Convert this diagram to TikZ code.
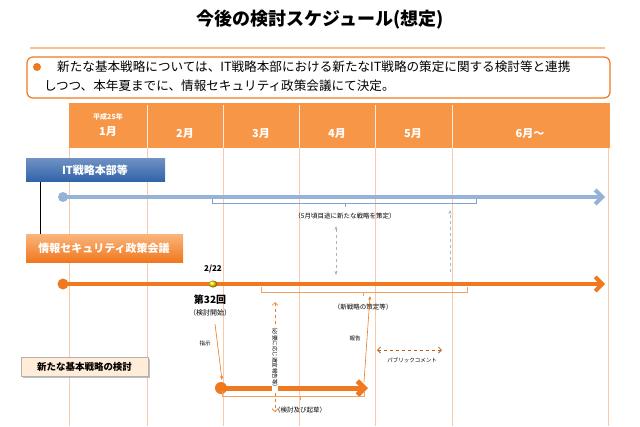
\documentclass[tikz,border=0pt]{standalone}
\usepackage{fontspec}
\setmainfont{Noto Sans CJK JP}
\usetikzlibrary{arrows.meta,shadows}
\definecolor{org}{RGB}{240,120,30}
\definecolor{lorg}{RGB}{247,150,70}
\definecolor{vln}{RGB}{250,200,170}
\definecolor{blu}{RGB}{149,179,215}
\definecolor{dblu}{RGB}{50,100,170}
\tikzset{
 mon/.style={text=white,font=\bfseries\fontsize{11}{12}\selectfont},
 small/.style={font=\fontsize{6.5}{7}\selectfont},
 brk/.style={draw=#1,line width=0.6pt},
 lab/.style={draw=none,font=\bfseries\fontsize{11}{12}\selectfont,inner sep=0pt},
}
\begin{document}
\begin{tikzpicture}[x=1pt,y=-1pt]
\useasboundingbox (0,0) rectangle (640,426);
% title
\node[font=\bfseries\fontsize{18}{19}\selectfont] (title) at (320,20) {今後の検討スケジュール(想定)};
\draw[lorg!60,line width=1.5pt] (30,48) -- (605,48);
\draw[org,line width=1.2pt,rounded corners=6pt] (27,57) rectangle (610,98);
\fill[org] (37,67) circle (4);
\node[anchor=west,font=\fontsize{12.6}{13}\selectfont,inner sep=0] (l1) at (57,67) {新たな基本戦略については、IT戦略本部における新たなIT戦略の策定に関する検討等と連携};
\node[anchor=west,font=\fontsize{12.6}{13}\selectfont,inner sep=0] (l2) at (44,86) {しつつ、本年夏までに、情報セキュリティ政策会議にて決定。};
% header
\fill[lorg] (69,103) rectangle (610,148);
\foreach \x in {69,147,223,299,375,452,608} \draw[vln,line width=0.8pt] (\x,148) -- (\x,426);
\foreach \x in {147,223,299,375,452} \draw[white!80!lorg,line width=0.8pt] (\x,105) -- (\x,148);
\node[text=white,font=\bfseries\fontsize{7}{8}\selectfont] (yr) at (108,117) {平成25年};
\node[mon] (m1) at (108,132) {1月};
\node[mon] (m2) at (185,134) {2月};
\node[mon] (m3) at (261,134) {3月};
\node[mon] (m4) at (337,134) {4月};
\node[mon] (m5) at (413,134) {5月};
\node[mon] (m6) at (530,134) {6月～};
% IT box
\draw[black,line width=0.8pt] (40,181) -- (40,236);
\shade[top color=dblu!70!white,bottom color=dblu] (26,158) rectangle (165,181);
\node[text=white,lab] (it) at (95,170) {IT戦略本部等};
\draw[blu,line width=4pt,-{Straight Barb[length=7pt,width=14pt]}] (63,197) -- (605,197);
\fill[blu] (63,197) circle (5);
\draw[brk=dblu!60] (212,199) -- (212,203) -- (476,203) -- (476,199);
\draw[brk=dblu!60] (345,203) -- (345,207);
\node[small] (it5) at (345,216) {（5月頃目途に新たな戦略を策定）};
% gray dashed
\draw[gray!60,dashed,{Stealth[length=4pt]}-{Stealth[length=4pt]}] (336,226) -- (336,275);
\draw[gray!60,dashed,-{Stealth[length=4pt]}] (450,272) -- (450,210);
% council
\shade[top color=lorg!70,bottom color=org] (26,234) rectangle (183,262);
\node[text=white,lab] (isc) at (104,248) {情報セキュリティ政策会議};
\draw[org,line width=4pt,-{Straight Barb[length=7pt,width=14pt]}] (63,284) -- (605,284);
\fill[org] (63,284) circle (5.5);
\draw[brk=org!70] (261,287) -- (261,292) -- (467,292) -- (467,287);
\draw[brk=org!70] (363,292) -- (363,296);
\node[small] (ns) at (363,307) {（新戦略の策定等）};
\shade[ball color=yellow!70!orange] (213,284) ellipse (4.5 and 3.5);
\node[font=\bfseries\fontsize{8}{9}\selectfont] (d) at (213,269) {2/22};
\node[font=\bfseries\fontsize{10}{11}\selectfont] (n32) at (210,300) {第32回};
\node[font=\fontsize{7}{8}\selectfont] (ks) at (210,313) {（検討開始）};
% new strategy box
\node[draw=gray!60,fill=orange!15,drop shadow={shadow xshift=1.5pt,shadow yshift=-1.5pt},minimum width=127pt,minimum height=19pt,inner sep=0,font=\bfseries\fontsize{9.5}{10}\selectfont] (nb) at (84.5,366.5) {新たな基本戦略の検討};
\draw[org,line width=5pt,-{Straight Barb[length=7pt,width=14pt]}] (222,388) -- (368,388);
\fill[org] (221,388) circle (6);
\draw[brk=org!70] (222,391) -- (222,396) -- (364,396) -- (364,391);
\draw[brk=org!70] (300,396) -- (300,400);
\node[small] (kk) at (300,410) {（検討及び起草）};
% arrows
\draw[org,line width=0.6pt,-{Stealth[length=4pt]}] (ks.south) ++(5,4) -- (222,380);
\node[font=\fontsize{5.5}{6}\selectfont] (sj) at (205,343) {指示};
\draw[org,line width=0.6pt,-{Stealth[length=4pt]}] (364,382) -- (370,296);
\node[font=\fontsize{5.5}{6}\selectfont] (hk) at (355,338) {報告};
\draw[org,dashed,line width=0.6pt,{Straight Barb[length=3pt]}-{Straight Barb[length=3pt]}] (275,302) -- (275,412);
\node[fill=white,rotate=-90,inner sep=0.5pt,font=\fontsize{5.5}{6}\selectfont] (hy) at (275,357) {（必要に応じ適宜報告等）};
\draw[org!80!black,dashed,line width=0.8pt,{Straight Barb[length=3pt]}-{Straight Barb[length=3pt]}] (377,350) -- (442,350);
\node[font=\fontsize{5.5}{6}\selectfont] (pc) at (412,360) {パブリックコメント};
\end{tikzpicture}
\end{document}
